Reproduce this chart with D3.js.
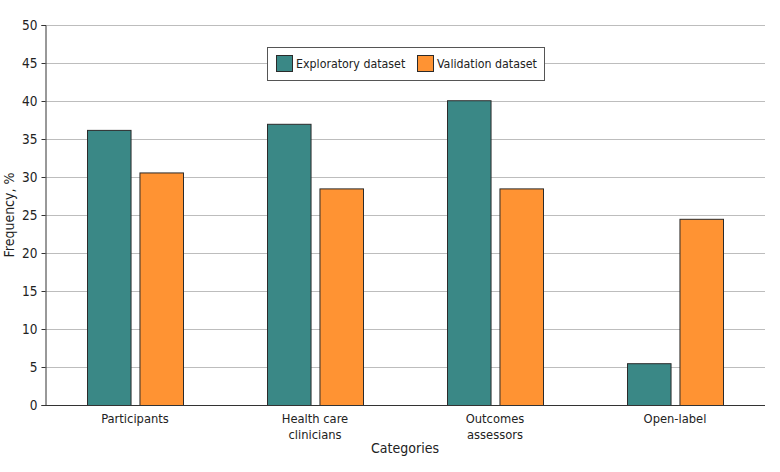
<!DOCTYPE html>
<html><head><meta charset="utf-8">
<script src="https://cdn.jsdelivr.net/npm/d3@7"></script>
<style>body{margin:0;background:#fff}svg{display:block}</style>
</head><body><svg id="c" width="780" height="472"></svg>
<script>
const categories = [["Participants"], ["Health care", "clinicians"], ["Outcomes", "assessors"], ["Open-label"]];
const seriesNames = ["Exploratory dataset", "Validation dataset"];
const exploratory = [36.2, 37.0, 40.1, 5.5];
const validation = [30.6, 28.5, 28.5, 24.5];
const yTicks = [0, 5, 10, 15, 20, 25, 30, 35, 40, 45, 50];
const colors = ["#3a8886", "#ff9333"];

const font = "'DejaVu Sans Condensed', sans-serif";
const svg = d3.select("#c");
const m = {l: 45, r: 15, t: 25, b: 67};
const W = 780, H = 472;
const x0 = d3.scaleBand().domain(d3.range(categories.length)).range([m.l, W - m.r]).paddingInner(0).paddingOuter(0);
const y = d3.scaleLinear().domain([0, 50]).range([H - m.b, m.t]);
const groupW = 96;
const x1 = d3.scaleBand().domain([0, 1]).range([0, groupW]).paddingInner(0.17);

// gridlines
svg.append("g").selectAll("line").data(yTicks.filter(d => d > 0)).join("line")
  .attr("x1", m.l).attr("x2", W - m.r).attr("y1", d => y(d) + 0.5).attr("y2", d => y(d) + 0.5)
  .attr("stroke", "#bdbdbd").attr("stroke-width", 1);

// y axis
const ya = svg.append("g").attr("transform", `translate(${m.l + 0.5},0)`)
  .call(d3.axisLeft(y).tickValues(yTicks).tickSize(4).tickPadding(4));
ya.select(".domain").attr("stroke", "#333");
ya.selectAll(".tick line").attr("stroke", "#333");
ya.selectAll("text").attr("font-family", font).attr("font-size", 13.5).attr("fill", "#222");

// bars
const series = [exploratory, validation];
const g = svg.append("g");
series.forEach((vals, si) => {
  g.selectAll(null).data(vals).join("rect")
    .attr("x", (d, i) => x0(i) + (x0.bandwidth() - groupW) / 2 + x1(si) + 0.5)
    .attr("y", d => y(d) + 0.5)
    .attr("width", x1.bandwidth())
    .attr("height", d => y(0) - y(d))
    .attr("fill", colors[si]).attr("stroke", "#2b2b2b").attr("stroke-width", 1);
});

// baseline
svg.append("line").attr("x1", m.l).attr("x2", W - m.r).attr("y1", y(0) + 0.5).attr("y2", y(0) + 0.5)
  .attr("stroke", "#333");

// x labels
const xl = svg.append("g");
categories.forEach((lines, i) => {
  const t = xl.append("text").attr("x", x0(i) + x0.bandwidth() / 2).attr("y", y(0) + 18)
    .attr("text-anchor", "middle").attr("font-family", font).attr("font-size", 12.8).attr("fill", "#222");
  lines.forEach((ln, j) => t.append("tspan").attr("x", x0(i) + x0.bandwidth() / 2).attr("dy", j ? 16 : 0).text(ln));
});

svg.append("text").attr("x", (m.l + W - m.r) / 2).attr("y", 453).attr("text-anchor", "middle")
  .attr("font-family", font).attr("font-size", 14).attr("fill", "#222").text("Categories");
svg.append("text").attr("transform", `translate(14,${(y(0) + y(50)) / 2}) rotate(-90)`).attr("text-anchor", "middle")
  .attr("font-family", font).attr("font-size", 14).attr("fill", "#222").text("Frequency, %");

// legend
const lg = svg.append("g");
lg.append("rect").attr("x", 267.5).attr("y", 47.5).attr("width", 277).attr("height", 33)
  .attr("fill", "#fff").attr("stroke", "#555");
const lx = [276, 417];
seriesNames.forEach((n, i) => {
  lg.append("rect").attr("x", lx[i] + 0.5).attr("y", 55.5).attr("width", 16).attr("height", 16)
    .attr("fill", colors[i]).attr("stroke", "#2b2b2b");
  lg.append("text").attr("x", lx[i] + 20).attr("y", 68).attr("font-family", font).attr("font-size", 12.3)
    .attr("fill", "#222").text(n);
});
</script></body></html>
